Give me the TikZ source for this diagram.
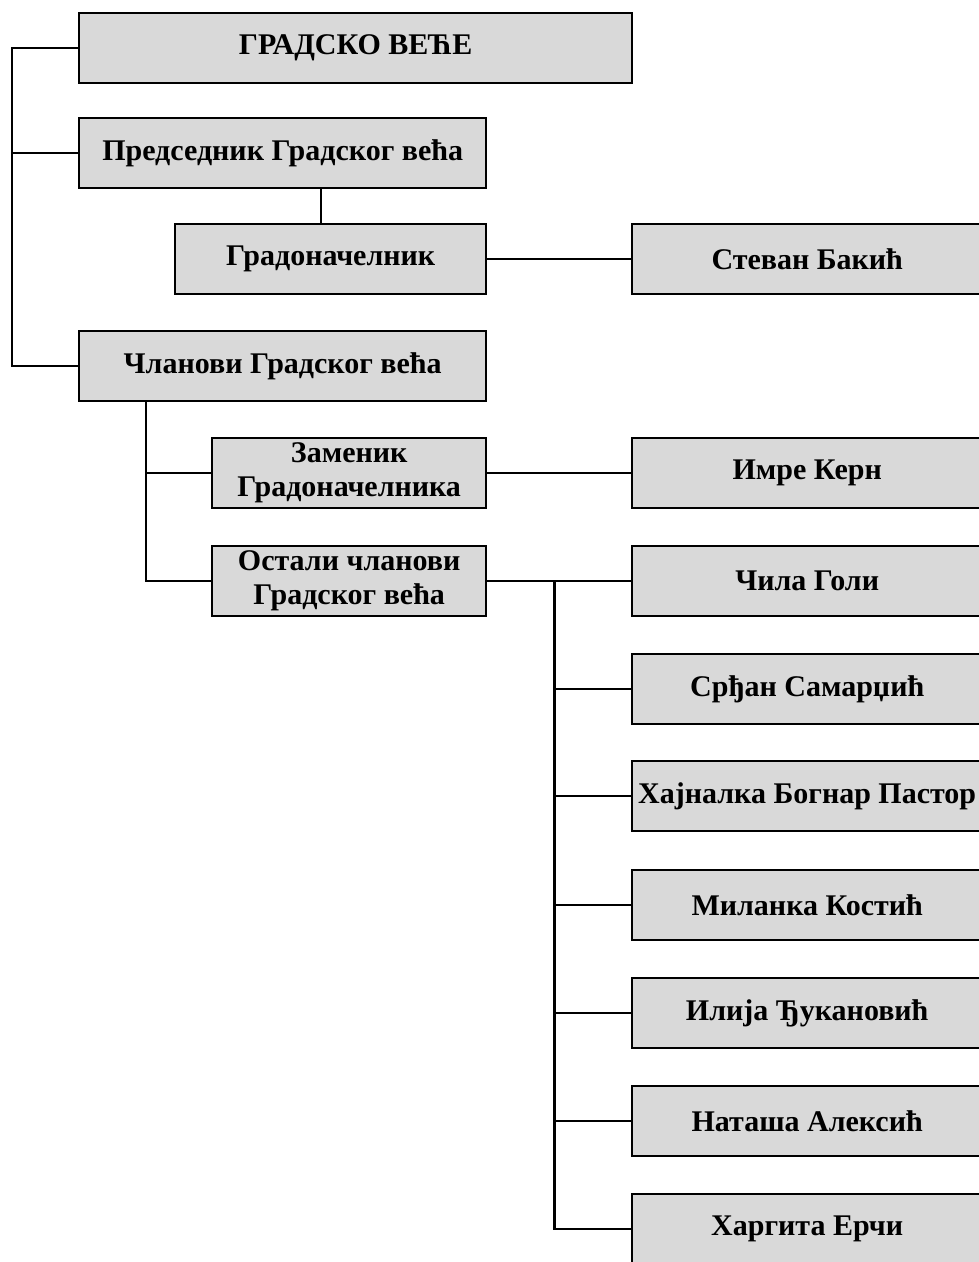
\documentclass[tikz,border=0pt]{standalone}
\usepackage{fontspec}
\setmainfont{Liberation Serif}
\definecolor{boxgray}{HTML}{D9D9D9}
\tikzset{
  box/.style={draw,line width=2.4pt,fill=boxgray,anchor=north west,inner sep=0pt,
    minimum height=70pt,align=center,font=\fontsize{30}{34}\selectfont\bfseries},
  conn/.style={line width=2.4pt}
}
\begin{document}
\begin{tikzpicture}[x=1pt,y=-1pt]
\useasboundingbox (0,0) rectangle (979,1262);
\clip (0,0) rectangle (979,1262);

\node[box,minimum width=553pt] (vece) at (78,12) {ГРАДСКО ВЕЋЕ};
\node[box,minimum width=407pt] (predsednik) at (78,117) {Председник Градског већа};
\node[box,minimum width=311pt] (gradonacelnik) at (174,223) {Градоначелник};
\node[box,minimum width=407pt] (clanovi) at (78,330) {Чланови Градског већа};
\node[box,minimum width=274pt] (zamenik) at (211,437) {Заменик\\Градоначелника};
\node[box,minimum width=274pt] (ostali) at (211,545) {Остали чланови\\Градског већа};

\node[box,minimum width=350pt] (bakic) at (631,223) {Стеван Бакић};
\node[box,minimum width=350pt] (kern) at (631,437) {Имре Керн};
\node[box,minimum width=350pt] (goli) at (631,545) {Чила Голи};
\node[box,minimum width=350pt] (samardzic) at (631,653) {Срђан Самарџић};
\node[box,minimum width=350pt] (pastor) at (631,760) {Хајналка Богнар Пастор};
\node[box,minimum width=350pt] (kostic) at (631,869) {Миланка Костић};
\node[box,minimum width=350pt] (djukanovic) at (631,977) {Илија Ђукановић};
\node[box,minimum width=350pt] (aleksic) at (631,1085) {Наташа Алексић};
\node[box,minimum width=350pt] (ercsi) at (631,1193) {Харгита Ерчи};

\draw[conn] (vece.west) -- ++(-66,0) |- (clanovi.west);
\draw[conn] (predsednik.west) -- ++(-66,0);
\draw[conn] ([xshift=-10pt]gradonacelnik.north) -- ([xshift=-10pt]gradonacelnik.north |- predsednik.south);
\draw[conn] (gradonacelnik) -- (bakic);

\draw[conn] ([xshift=68pt]clanovi.south west) |- (ostali.west);
\draw[conn] (zamenik.west) -- ++(-65,0);
\draw[conn] (zamenik) -- (kern);

\draw[conn] (ostali) -- (goli);
\coordinate (branch) at ([xshift=67pt]ostali.east);
\draw[conn] (branch) |- (ercsi.west);
\draw[conn] (samardzic.west) -- (samardzic.west -| branch);
\draw[conn] (pastor.west) -- (pastor.west -| branch);
\draw[conn] (kostic.west) -- (kostic.west -| branch);
\draw[conn] (djukanovic.west) -- (djukanovic.west -| branch);
\draw[conn] (aleksic.west) -- (aleksic.west -| branch);
\end{tikzpicture}
\end{document}
